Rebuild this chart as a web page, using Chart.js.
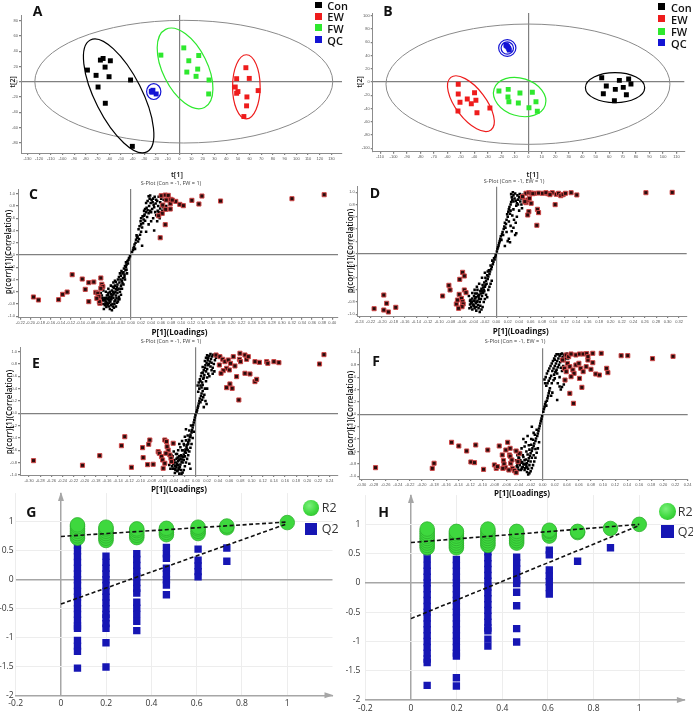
<!DOCTYPE html>
<html>
<head>
<meta charset="utf-8">
<title>PCA / OPLS-DA panels</title>
<script src="https://cdn.jsdelivr.net/npm/chart.js@4.4.1/dist/chart.umd.min.js"></script>
<style>
  html, body { margin: 0; padding: 0; background: #fff; }
  #fig { position: relative; width: 693px; height: 712px; overflow: hidden; font-family: "Open Sans", "Liberation Sans", sans-serif; }
  #fig canvas { position: absolute; }
  .lbl { position: absolute; white-space: nowrap; line-height: 1; color: #111; }
  .mk { position: absolute; }
</style>
</head>
<body>
<div id="fig"></div>
<script>
// ---------- data: score plots ----------
const groupNames = ['Con', 'EW', 'FW', 'QC'];

const aCon = [[-78.7,15.2],[-71.3,8.3],[-67.6,28.3],[-65.3,30.4],[-63.6,19.1],[-59.1,27.4],[-60.2,6.5],[-69.6,-7.0],[-63.4,-28.3],[-41.8,2.2],[-40.3,-84.8]];
const aEW = [[56.8,18.3],[48.9,3.9],[59.7,4.3],[47.7,-7.0],[50.0,-13.0],[48.9,-15.2],[67.3,-11.7],[57.7,-20.0],[57.4,-31.7],[55.1,-45.7]];
const aFW = [[-15.9,34.8],[3.7,44.3],[8.0,27.4],[16.5,34.3],[6.3,12.6],[15.6,16.5],[14.2,7.0],[25.3,2.2],[25.0,-16.1]];
const aQC = [[-24.1,-12.6],[-22.7,-11.3],[-19.9,-16.1],[-23.5,-13.8]];

const bCon = [[54.5,6.5],[67.6,2.5],[74.5,4.5],[57.9,-6.0],[64.6,-11.1],[70.5,-8.1],[76.2,-3.0],[55.7,-17.6],[72.8,-19.1],[63.9,-28.2]];
const bEW = [[-52.0,-3.5],[-52.0,-18.1],[-39.9,-16.1],[-45.3,-25.7],[-38.9,-27.7],[-50.7,-30.7],[-42.3,-32.7],[-52.2,-43.8],[-28.5,-39.3],[-38.1,-46.3]];
const bFW = [[-21.8,-13.6],[-14.9,-11.1],[-6.2,-16.6],[3.0,-15.6],[-15.1,-22.7],[-14.4,-29.7],[-7.4,-31.7],[5.7,-29.7],[0.5,-38.8],[6.7,-44.3]];
const bQC = [[-16.6,55.9],[-15.3,53.4],[-14.6,50.9],[-14.1,48.4],[-16.1,54.9]];

// confidence ellipses: centre, and two conjugate semi-axis vectors (data units)
const aEllipses = [
  { g: 'T2', c: [3.7, 0], u: [127.4, 0], v: [0, 80.4] },
  { g: 'Con', c: [-52, -18.7], u: [24.2, -73.3], v: [-17.9, -13.9] },
  { g: 'QC', c: [-22, -13], u: [6.1, 0], v: [0, 10.4] },
  { g: 'FW', c: [4.8, 17.4], u: [16.6, -51.2], v: [-17.1, -13.0] },
  { g: 'EW', c: [57.2, -6.7], u: [11.8, 0], v: [0, 42] }
];
const bEllipses = [
  { g: 'T2', c: [-0.25, -3.3], u: [105.4, 0], v: [0, 90.9] },
  { g: 'Con', c: [64.4, -8.6], u: [22, 0], v: [0, 22.7] },
  { g: 'EW', c: [-42.6, -32.7], u: [14.9, -39.7], v: [-8.9, -13.8] },
  { g: 'FW', c: [-6.4, -22.7], u: [19.0, -12.2], v: [-4.2, -27.1] },
  { g: 'QC', c: [-15.6, 51.4], u: [6.4, 0], v: [0, 12.6] },
  { g: 'QC', c: [-15.6, 51.4], u: [4.6, 0], v: [0, 9.2] }
];

// ---------- data: S-plots ----------
const cRed = [[0.060,0.967],[0.068,0.978],[0.074,0.973],[0.070,0.897],[0.079,0.908],[0.063,0.815],[0.069,0.745],[0.078,0.75],[0.089,0.875],[0.097,0.826],[0.104,0.805],[0.121,0.892],[0.135,0.832],[0.141,0.962],[0.178,0.881],[0.320,0.919],[0.384,0.984],[0.068,0.495],[0.058,0.282],[0.062,0.68],[0.055,0.64],[0.078,0.837],[0.082,0.897],
  [-0.194,-0.685],[-0.184,-0.734],[-0.144,-0.729],[-0.136,-0.642],[-0.127,-0.604],[-0.117,-0.321],[-0.097,-0.392],[-0.091,-0.56],[-0.084,-0.451],[-0.074,-0.44],[-0.084,-0.761],[-0.060,-0.375],[-0.070,-0.609],[-0.066,-0.625],[-0.064,-0.68],[-0.062,-0.788],[-0.058,-0.478],[-0.056,-0.516],[-0.060,-0.544],[-0.063,-0.761],[-0.068,-0.707]];
const cBlack = [[0.002,0.05],[0.004,0.08],[0.005,0.11],[0.006,0.13],[0.008,0.1],[0.007,0.17],[0.009,0.2],[0.01,0.25],[0.012,0.28],[0.014,0.22],[0.011,0.32],[0.013,0.3],[0.016,0.26],[0.018,0.33],[0.02,0.38],[0.022,0.15],[0.015,0.42],[0.017,0.47],[0.02,0.5],[0.019,0.55],[0.022,0.45],[0.024,0.52],[0.02,0.6],[0.023,0.63],[0.025,0.58],[0.027,0.66],[0.03,0.7],[0.026,0.72],[0.028,0.75],[0.031,0.77],[0.033,0.73],[0.035,0.68],[0.038,0.72],[0.04,0.7],[0.042,0.75],[0.036,0.8],[0.039,0.85],[0.041,0.9],[0.044,0.92],[0.047,0.95],[0.05,0.9],[0.052,0.88],[0.045,0.82],[0.048,0.7],[0.05,0.65],[0.053,0.72],[0.055,0.7],[0.058,0.76],[0.06,0.68],[0.062,0.72],[0.057,0.6],[0.052,0.55],[0.044,0.6],[0.04,0.55],[0.035,0.5],[0.032,0.62],[0.046,0.4],[0.03,0.38],[0.064,0.78],[0.066,0.74],[0.07,0.8],[0.035,0.96],[0.038,0.97],[0.055,0.95],[0.06,0.92],[0.065,0.9],
  [0.03,0.85],[0.033,0.88],[0.037,0.92],[0.043,0.86],[0.046,0.78],[0.049,0.84],[0.054,0.8],[0.058,0.86],[0.026,0.64],[0.028,0.56],
  [-0.002,-0.02],[-0.004,-0.05],[-0.005,-0.08],[-0.007,-0.1],[-0.006,-0.14],[-0.009,-0.16],[-0.01,-0.2],[-0.012,-0.18],[-0.011,-0.25],[-0.014,-0.22],[-0.015,-0.28],[-0.017,-0.3],[-0.013,-0.32],[-0.019,-0.26],[-0.02,-0.34],[-0.022,-0.3],[-0.016,-0.38],[-0.018,-0.42],[-0.021,-0.4],[-0.024,-0.36],[-0.026,-0.4],[-0.023,-0.45],[-0.027,-0.48],[-0.03,-0.44],[-0.028,-0.52],[-0.032,-0.5],[-0.025,-0.55],[-0.02,-0.5],[-0.015,-0.48],[-0.012,-0.4],[-0.03,-0.56],[-0.034,-0.54],[-0.036,-0.6],[-0.033,-0.62],[-0.038,-0.58],[-0.04,-0.64],[-0.042,-0.6],[-0.037,-0.66],[-0.035,-0.7],[-0.039,-0.72],[-0.043,-0.68],[-0.045,-0.7],[-0.041,-0.76],[-0.044,-0.74],[-0.047,-0.72],[-0.048,-0.78],[-0.046,-0.8],[-0.05,-0.76],[-0.052,-0.82],[-0.049,-0.85],[-0.054,-0.88],[-0.053,-0.7],[-0.056,-0.74],[-0.03,-0.66],[-0.027,-0.62],[-0.024,-0.68],[-0.022,-0.6],[-0.018,-0.55],[-0.031,-0.74],[-0.028,-0.78],[-0.033,-0.8],[-0.036,-0.84],[-0.04,-0.82],[-0.025,-0.72],[-0.02,-0.65],[-0.058,-0.66],[-0.06,-0.62],[-0.055,-0.58],[-0.05,-0.6],[-0.045,-0.55],[-0.035,-0.45],[-0.01,-0.12],[-0.008,-0.3],[-0.042,-0.88],[-0.038,-0.9],
  [-0.045,-0.62],[-0.048,-0.66],[-0.05,-0.7],[-0.052,-0.74],[-0.047,-0.82],[-0.043,-0.78],[-0.039,-0.68],[-0.035,-0.64],[-0.031,-0.6],[-0.029,-0.7],[-0.026,-0.76],[-0.023,-0.72],[-0.033,-0.76],[-0.037,-0.8],[-0.041,-0.72],[-0.044,-0.84],[-0.051,-0.79],[-0.055,-0.8],[-0.057,-0.7],[-0.034,-0.86],[-0.03,-0.84],[-0.027,-0.57],[-0.021,-0.55],[-0.017,-0.46],[-0.013,-0.36],[-0.009,-0.24],[-0.046,-0.65],[-0.04,-0.5],[-0.036,-0.52],[-0.032,-0.42]];

const dRed = [[0.052,0.984],[0.057,0.994],[0.061,0.988],[0.067,0.984],[0.074,0.988],[0.081,0.984],[0.090,0.978],[0.098,0.994],[0.105,0.967],[0.109,0.984],[0.113,0.945],[0.117,0.962],[0.121,0.984],[0.131,0.994],[0.141,0.957],[0.103,0.798],[0.052,0.831],[0.055,0.874],[0.058,0.902],[0.050,0.847],[0.057,0.683],[0.055,0.628],[0.072,0.721],[0.074,0.667],[0.071,0.459],[0.262,0.994],[0.308,0.999],[0.046,0.929],[0.061,0.82],[0.064,0.978],[0.087,0.994],[0.094,0.962],
  [-0.214,-0.908],[-0.197,-0.684],[-0.197,-0.93],[-0.192,-0.82],[-0.189,-0.962],[-0.176,-0.886],[-0.094,-0.70],[-0.083,-0.525],[-0.081,-0.601],[-0.070,-0.831],[-0.068,-0.766],[-0.065,-0.673],[-0.064,-0.427],[-0.059,-0.312],[-0.056,-0.372],[-0.061,-0.738],[-0.059,-0.793],[-0.058,-0.831],[-0.056,-0.601],[-0.053,-0.645],[-0.060,-0.875],[-0.066,-0.902]];
const dBlack = [[0.001,0.03],[0.002,0.07],[0.003,0.1],[0.004,0.13],[0.005,0.17],[0.006,0.2],[0.007,0.24],[0.008,0.28],[0.009,0.22],[0.01,0.31],[0.011,0.35],[0.012,0.3],[0.013,0.4],[0.014,0.44],[0.016,0.42],[0.015,0.5],[0.017,0.48],[0.018,0.55],[0.02,0.6],[0.019,0.64],[0.021,0.68],[0.022,0.72],[0.024,0.65],[0.023,0.76],[0.025,0.8],[0.026,0.84],[0.028,0.88],[0.027,0.92],[0.03,0.95],[0.032,0.9],[0.034,0.86],[0.036,0.82],[0.038,0.88],[0.04,0.92],[0.042,0.85],[0.044,0.8],[0.035,0.78],[0.03,0.72],[0.028,0.62],[0.031,0.55],[0.034,0.5],[0.03,0.42],[0.027,0.36],[0.025,0.45],[0.036,0.6],[0.04,0.7],[0.045,0.74],[0.02,0.2],[0.022,0.24],[0.024,0.18],[0.033,0.3],[0.035,0.33],[0.026,0.97],[0.029,1.0],[0.046,0.96],[0.048,0.9],[0.015,0.12],[0.018,0.35],
  [0.03,0.85],[0.033,0.98],[0.037,0.95],[0.041,0.97],[0.043,0.9],[0.038,0.8],[0.025,0.7],[0.022,0.52],
  [-0.001,-0.03],[-0.002,-0.06],[-0.003,-0.1],[-0.004,-0.08],[-0.005,-0.14],[-0.006,-0.18],[-0.007,-0.12],[-0.008,-0.22],[-0.009,-0.26],[-0.01,-0.2],[-0.011,-0.3],[-0.012,-0.34],[-0.013,-0.28],[-0.014,-0.38],[-0.015,-0.42],[-0.016,-0.36],[-0.018,-0.45],[-0.017,-0.5],[-0.019,-0.4],[-0.02,-0.55],[-0.021,-0.48],[-0.022,-0.6],[-0.024,-0.52],[-0.023,-0.65],[-0.025,-0.7],[-0.026,-0.58],[-0.028,-0.62],[-0.027,-0.75],[-0.029,-0.8],[-0.03,-0.68],[-0.031,-0.72],[-0.032,-0.85],[-0.033,-0.78],[-0.034,-0.66],[-0.035,-0.88],[-0.036,-0.82],[-0.037,-0.74],[-0.038,-0.9],[-0.039,-0.86],[-0.04,-0.78],[-0.041,-0.84],[-0.042,-0.92],[-0.043,-0.8],[-0.044,-0.88],[-0.045,-0.76],[-0.046,-0.84],[-0.047,-0.9],[-0.048,-0.7],[-0.015,-0.3],[-0.012,-0.55],[-0.014,-0.6],[-0.018,-0.68],[-0.02,-0.75],[-0.016,-0.72],[-0.022,-0.8],[-0.024,-0.88],[-0.026,-0.92],[-0.029,-0.96],[-0.03,-0.5],[-0.034,-0.55],[-0.038,-0.6],[-0.042,-0.65],[-0.008,-0.45],[-0.01,-0.5],[-0.025,-0.4],[-0.02,-0.32],
  [-0.03,-0.75],[-0.032,-0.7],[-0.034,-0.8],[-0.036,-0.72],[-0.038,-0.78],[-0.04,-0.85],[-0.042,-0.74],[-0.044,-0.82],[-0.028,-0.86],[-0.031,-0.9],[-0.035,-0.94],[-0.027,-0.66],[-0.025,-0.62],[-0.023,-0.56],[-0.021,-0.62],[-0.019,-0.52],[-0.033,-0.6],[-0.037,-0.66],[-0.039,-0.7],[-0.046,-0.78]];

const eRed = [[0.036,0.946],[0.043,0.919],[0.048,0.876],[0.052,0.838],[0.058,0.865],[0.062,0.811],[0.067,0.919],[0.070,0.768],[0.055,0.73],[0.049,0.692],[0.060,0.703],[0.079,0.974],[0.088,0.946],[0.091,0.876],[0.094,0.919],[0.078,0.876],[0.080,0.838],[0.088,0.649],[0.097,0.638],[0.073,0.595],[0.106,0.514],[0.109,0.551],[0.055,0.416],[0.061,0.476],[0.065,0.405],[0.077,0.216],[0.106,0.838],[0.114,0.827],[0.127,0.838],[0.129,0.811],[0.140,0.838],[0.149,0.822],[0.222,0.8],[0.230,0.952],[0.042,0.784],[0.045,0.649],
  [-0.292,-0.769],[-0.204,-0.844],[-0.173,-0.688],[-0.134,-0.526],[-0.128,-0.38],[-0.116,-0.877],[-0.096,-0.558],[-0.095,-0.72],[-0.087,-0.834],[-0.085,-0.504],[-0.083,-0.434],[-0.077,-0.828],[-0.068,-0.623],[-0.066,-0.65],[-0.062,-0.704],[-0.060,-0.758],[-0.059,-0.893],[-0.056,-0.434],[-0.053,-0.46],[-0.050,-0.596],[-0.047,-0.677],[-0.045,-0.731],[-0.054,-0.65],[-0.056,-0.812],[-0.041,-0.487],[-0.044,-0.785],[-0.052,-0.542]];
const eBlack = [[0.001,0.02],[0.002,0.05],[0.003,0.09],[0.004,0.12],[0.005,0.16],[0.006,0.2],[0.007,0.24],[0.008,0.18],[0.009,0.28],[0.01,0.32],[0.012,0.36],[0.011,0.22],[0.013,0.26],[0.015,0.3],[0.006,0.4],[0.008,0.45],[0.005,0.5],[0.007,0.55],[0.009,0.6],[0.011,0.5],[0.013,0.56],[0.015,0.62],[0.012,0.66],[0.014,0.7],[0.016,0.74],[0.018,0.68],[0.02,0.72],[0.017,0.78],[0.019,0.82],[0.021,0.86],[0.023,0.8],[0.025,0.84],[0.022,0.9],[0.024,0.93],[0.027,0.88],[0.029,0.92],[0.031,0.95],[0.026,0.76],[0.028,0.7],[0.03,0.74],[0.032,0.8],[0.034,0.86],[0.01,0.42],[0.012,0.46],[0.018,0.52],[0.02,0.58],[0.022,0.64],[0.024,0.6],[0.016,0.4],[0.02,0.4],[0.03,0.64],[0.033,0.68],[0.004,0.35],[0.003,0.45],[0.017,0.2],[0.019,0.15],[0.014,0.1],[0.036,0.9],[0.038,0.94],
  [0.01,0.65],[0.012,0.75],[0.016,0.85],[0.018,0.9],[0.02,0.94],[0.026,0.96],[0.028,0.82],[0.022,0.78],[0.014,0.58],[0.008,0.52],
  [-0.001,-0.03],[-0.002,-0.07],[-0.003,-0.11],[-0.004,-0.15],[-0.005,-0.19],[-0.006,-0.23],[-0.007,-0.27],[-0.008,-0.31],[-0.009,-0.2],[-0.01,-0.35],[-0.011,-0.39],[-0.012,-0.28],[-0.013,-0.43],[-0.014,-0.47],[-0.015,-0.36],[-0.016,-0.51],[-0.017,-0.55],[-0.018,-0.44],[-0.019,-0.59],[-0.02,-0.63],[-0.021,-0.52],[-0.022,-0.67],[-0.023,-0.71],[-0.024,-0.6],[-0.025,-0.75],[-0.026,-0.79],[-0.027,-0.68],[-0.028,-0.83],[-0.029,-0.87],[-0.03,-0.76],[-0.031,-0.91],[-0.032,-0.84],[-0.033,-0.72],[-0.034,-0.94],[-0.035,-0.88],[-0.036,-0.8],[-0.037,-0.92],[-0.038,-0.85],[-0.039,-0.76],[-0.04,-0.9],[-0.041,-0.82],[-0.042,-0.7],[-0.043,-0.86],[-0.044,-0.78],[-0.046,-0.9],[-0.048,-0.84],[-0.008,-0.5],[-0.01,-0.56],[-0.012,-0.62],[-0.014,-0.68],[-0.016,-0.74],[-0.018,-0.8],[-0.02,-0.86],[-0.022,-0.92],[-0.024,-0.96],[-0.026,-0.98],[-0.03,-0.98],[-0.028,-0.55],[-0.032,-0.6],[-0.036,-0.66],[-0.04,-0.62],[-0.044,-0.68],[-0.02,-0.38],[-0.025,-0.45],[-0.03,-0.5],[-0.018,-0.26],[-0.006,-0.4],[-0.004,-0.3],[-0.015,-0.6],[-0.035,-0.74],[-0.038,-0.97],[-0.012,-0.82],[-0.01,-0.9],
  [-0.03,-0.7],[-0.032,-0.78],[-0.034,-0.82],[-0.036,-0.86],[-0.028,-0.74],[-0.026,-0.7],[-0.024,-0.8],[-0.022,-0.76],[-0.02,-0.7],[-0.018,-0.64],[-0.03,-0.88],[-0.033,-0.93],[-0.027,-0.92],[-0.038,-0.9],[-0.04,-0.8],[-0.042,-0.9],[-0.016,-0.58],[-0.014,-0.5],[-0.012,-0.44],[-0.01,-0.38],[-0.025,-0.6],[-0.022,-0.5],[-0.034,-0.66]];

const fRed = [[0.039,0.957],[0.043,0.930],[0.047,0.973],[0.055,0.957],[0.061,0.973],[0.067,0.973],[0.073,0.979],[0.083,0.984],[0.097,0.984],[0.130,0.946],[0.141,0.946],[0.182,0.898],[0.216,0.935],[0.036,0.742],[0.039,0.688],[0.041,0.823],[0.045,0.769],[0.050,0.715],[0.052,0.661],[0.055,0.796],[0.060,0.823],[0.063,0.742],[0.067,0.688],[0.072,0.769],[0.075,0.876],[0.080,0.726],[0.083,0.833],[0.088,0.65],[0.094,0.634],[0.106,0.742],[0.108,0.672],[0.045,0.338],[0.051,0.177],[0.065,0.435],[0.037,0.553],[0.047,0.607],[0.061,0.58],[0.075,0.93],[0.033,0.876],
  [-0.277,-0.861],[-0.183,-0.872],[-0.180,-0.79],[-0.151,-0.452],[-0.139,-0.511],[-0.126,-0.592],[-0.119,-0.769],[-0.113,-0.78],[-0.111,-0.495],[-0.098,-0.888],[-0.091,-0.576],[-0.080,-0.817],[-0.077,-0.872],[-0.075,-0.845],[-0.072,-0.511],[-0.067,-0.656],[-0.065,-0.748],[-0.064,-0.802],[-0.062,-0.861],[-0.058,-0.452],[-0.055,-0.656],[-0.054,-0.676],[-0.053,-0.79],[-0.050,-0.872],[-0.047,-0.909],[-0.044,-0.941],[-0.051,-0.737],[-0.056,-0.899],[-0.061,-0.576],[-0.066,-0.872],[-0.041,-0.764],[-0.039,-0.63],[-0.044,-0.592],[-0.054,-0.549]];
const fBlack = [[0.001,0.04],[0.002,0.08],[0.003,0.12],[0.004,0.16],[0.005,0.2],[0.006,0.14],[0.007,0.22],[0.008,0.26],[0.009,0.3],[0.01,0.34],[0.011,0.38],[0.012,0.42],[0.006,0.46],[0.008,0.5],[0.01,0.54],[0.012,0.58],[0.014,0.62],[0.005,0.6],[0.007,0.66],[0.009,0.7],[0.011,0.74],[0.013,0.78],[0.015,0.82],[0.017,0.86],[0.019,0.9],[0.021,0.94],[0.023,0.97],[0.016,0.7],[0.018,0.74],[0.02,0.78],[0.022,0.82],[0.024,0.86],[0.026,0.9],[0.028,0.94],[0.03,0.97],[0.019,0.64],[0.021,0.68],[0.023,0.72],[0.025,0.76],[0.027,0.8],[0.029,0.84],[0.031,0.88],[0.033,0.92],[0.035,0.96],[0.025,0.5],[0.028,0.45],[0.03,0.4],[0.032,0.44],[0.035,0.48],[0.024,0.23],[0.038,0.9],[0.04,0.94],[0.036,0.86],[0.034,0.78],[0.032,0.7],[0.015,0.5],[0.018,0.55],[0.014,0.3],[0.016,0.35],[0.02,0.58],[0.004,0.5],[0.003,0.56],
  [0.04,0.98],[0.042,0.9],[0.044,0.95],[0.037,0.96],[0.032,0.98],[0.026,0.97],[0.02,0.88],[0.022,0.7],[0.024,0.66],[0.028,0.6],[0.03,0.75],
  [-0.001,-0.03],[-0.002,-0.07],[-0.003,-0.11],[-0.004,-0.15],[-0.005,-0.19],[-0.006,-0.23],[-0.007,-0.27],[-0.008,-0.31],[-0.009,-0.35],[-0.01,-0.25],[-0.011,-0.39],[-0.012,-0.43],[-0.013,-0.33],[-0.014,-0.47],[-0.015,-0.51],[-0.016,-0.41],[-0.017,-0.55],[-0.018,-0.59],[-0.019,-0.49],[-0.02,-0.63],[-0.021,-0.67],[-0.022,-0.57],[-0.023,-0.71],[-0.024,-0.75],[-0.025,-0.65],[-0.026,-0.79],[-0.027,-0.83],[-0.028,-0.73],[-0.029,-0.87],[-0.03,-0.9],[-0.031,-0.81],[-0.032,-0.69],[-0.033,-0.85],[-0.034,-0.77],[-0.035,-0.88],[-0.036,-0.62],[-0.037,-0.74],[-0.038,-0.82],[-0.039,-0.7],[-0.04,-0.78],[-0.041,-0.86],[-0.042,-0.66],[-0.044,-0.74],[-0.046,-0.58],[-0.028,-0.45],[-0.03,-0.52],[-0.032,-0.4],[-0.025,-0.35],[-0.035,-0.55],[-0.008,-0.55],[-0.01,-0.62],[-0.012,-0.7],[-0.014,-0.76],[-0.016,-0.82],[-0.018,-0.87],[-0.02,-0.92],[-0.022,-0.95],[-0.024,-0.97],[-0.026,-0.93],[-0.015,-0.3],[-0.018,-0.2],[-0.006,-0.45],[-0.04,-0.9],[-0.043,-0.84],
  [-0.03,-0.74],[-0.032,-0.8],[-0.034,-0.86],[-0.036,-0.9],[-0.028,-0.8],[-0.026,-0.86],[-0.024,-0.88],[-0.022,-0.82],[-0.02,-0.76],[-0.018,-0.7],[-0.038,-0.76],[-0.04,-0.7],[-0.042,-0.8],[-0.027,-0.6],[-0.023,-0.5],[-0.019,-0.4],[-0.015,-0.66],[-0.012,-0.56],[-0.033,-0.66],[-0.036,-0.78]];

// ---------- data: permutation tests ----------
const gPermX = [0.073, 0.199, 0.335, 0.466, 0.606, 0.733, 1.0];
const gR2 = [[0.72,0.76,0.8,0.84,0.88,0.92,0.95],[0.68,0.72,0.76,0.8,0.84,0.88,0.91],[0.73,0.77,0.81,0.85,0.88],[0.78,0.82,0.86,0.89],[0.8,0.84,0.88,0.91],[0.9,0.93],[0.99]];
const gQ2 = [[0.6,0.5,0.4,0.3,0.2,0.1,0,-0.1,-0.2,-0.3,-0.4,-0.5,-0.6,-0.7,-0.8,-0.84,-1.05,-1.15,-1.24,-1.53],
  [0.41,0.3,0.2,0.1,0,-0.1,-0.2,-0.3,-0.4,-0.5,-0.6,-0.66,-0.76,-0.84,-1.09,-1.51],
  [0.45,0.35,0.25,0.15,0.05,-0.05,-0.15,-0.23,-0.39,-0.49,-0.6,-0.72,-0.88],
  [0.56,0.45,0.37,0.2,0.1,0,-0.09,-0.26],
  [0.53,0.34,0.24,0.14,0.05],
  [0.55,0.32],
  [0.97]];
const gR2Line = [[0, 0.75], [1, 1.0]];
const gQ2Line = [[0, -0.42], [1, 0.97]];

const hPermX = [0.071, 0.199, 0.337, 0.463, 0.606, 0.73, 0.874, 1.0];
const hR2 = [[0.6,0.64,0.68,0.72,0.76,0.8,0.84,0.88,0.92],[0.6,0.64,0.68,0.72,0.76,0.8,0.84,0.88],[0.64,0.68,0.72,0.76,0.8,0.84,0.88,0.92],[0.68,0.72,0.76,0.8,0.84,0.88],[0.8,0.84,0.88,0.9],[0.86,0.88],[0.93],[1.0]];
const hQ2 = [[0.53,0.41,0.3,0.2,0.1,0,-0.1,-0.2,-0.3,-0.4,-0.5,-0.6,-0.7,-0.8,-0.9,-1.0,-1.1,-1.2,-1.3,-1.36,-1.75],
  [0.4,0.3,0.2,0.1,0,-0.1,-0.2,-0.3,-0.4,-0.5,-0.6,-0.7,-0.8,-0.9,-1.0,-1.1,-1.2,-1.25,-1.62,-1.76],
  [0.53,0.43,0.33,0.23,0.13,0.03,-0.07,-0.17,-0.27,-0.37,-0.47,-0.57,-0.67,-0.77,-0.82,-0.96,-1.08],
  [0.44,0.34,0.24,0.14,0.04,-0.01,-0.16,-0.39,-0.78,-1.01],
  [0.56,0.48,0.22,0.12,0.02,-0.08,-0.19],
  [0.37],
  [0.6],
  [0.98]];
const hR2Line = [[0, 0.69], [1, 1.0]];
const hQ2Line = [[0, -0.61], [1, 0.98]];

// ---------- styling ----------
const groupColor = { Con: '#000000', EW: '#ee1c1c', FW: '#2ee82e', QC: '#1414d4', T2: '#8a8a8a' };
const fig = document.getElementById('fig');
const pt = arr => arr.map(p => ({ x: p[0], y: p[1] }));
const cols = (xs, ys) => xs.flatMap((x, i) => ys[i].map(y => ({ x: x, y: y })));

function makeCanvas(box) {
  const c = document.createElement('canvas');
  c.width = box.w; c.height = box.h;
  c.style.left = box.x + 'px'; c.style.top = box.y + 'px';
  c.style.width = box.w + 'px'; c.style.height = box.h + 'px';
  fig.appendChild(c);
  return c;
}

// pin the chart area to where it sits in the figure
function fixedLayout(box, area, xH) {
  return {
    padding: { left: 0, top: area.t - box.y, right: box.x + box.w - area.r, bottom: box.y + box.h - area.b - xH },
    yW: area.l - box.x,
    xH: xH
  };
}

const ellipsePlugin = {
  id: 'ellipses',
  beforeDatasetsDraw(chart, args, opts) {
    const { ctx, scales: { x, y } } = chart;
    (opts.list || []).forEach(e => {
      const cx = x.getPixelForValue(e.c[0]), cy = y.getPixelForValue(e.c[1]);
      const ux = x.getPixelForValue(e.c[0] + e.u[0]) - cx, uy = y.getPixelForValue(e.c[1] + e.u[1]) - cy;
      const vx = x.getPixelForValue(e.c[0] + e.v[0]) - cx, vy = y.getPixelForValue(e.c[1] + e.v[1]) - cy;
      ctx.save();
      ctx.save();
      ctx.transform(ux, uy, vx, vy, cx, cy);
      ctx.beginPath();
      ctx.arc(0, 0, 1, 0, Math.PI * 2);
      ctx.restore();
      ctx.strokeStyle = groupColor[e.g];
      ctx.lineWidth = e.g === 'T2' ? 1 : 1.2;
      ctx.stroke();
      ctx.restore();
    });
  }
};

const arrowPlugin = {
  id: 'arrows',
  afterDraw(chart) {
    const { ctx, chartArea: a, scales: { x } } = chart;
    const x0 = x.getPixelForValue(0);
    ctx.save();
    ctx.fillStyle = '#a6a6a6';
    ctx.beginPath();
    ctx.moveTo(x0, a.top - 1); ctx.lineTo(x0 - 3, a.top + 8); ctx.lineTo(x0 + 3, a.top + 8);
    ctx.fill();
    ctx.beginPath();
    ctx.moveTo(a.right + 1, a.bottom); ctx.lineTo(a.right - 8, a.bottom - 3); ctx.lineTo(a.right - 8, a.bottom + 3);
    ctx.fill();
    ctx.restore();
  }
};

const zeroGrid = col => (c => (c.tick && Math.abs(c.tick.value) < 1e-9) ? col : 'rgba(0,0,0,0)');

function baseAxis(range, step, lay, isX, fmt) {
  return {
    type: 'linear', min: range[0], max: range[1],
    afterFit: s => { if (isX) s.height = lay.xH; else s.width = lay.yW; },
    ticks: { stepSize: step, includeBounds: false, autoSkip: false, maxRotation: 0, minRotation: 0,
      font: { size: 4, family: 'Liberation Sans' }, color: '#555', padding: 1, callback: fmt },
    grid: { color: zeroGrid('#808080'), lineWidth: 1.2, tickColor: '#808080', tickLength: 2 },
    border: { color: '#8c8c8c', width: 1 }
  };
}

function scorePlot(box, area, xr, yr, groups, ells) {
  const lay = fixedLayout(box, area, 10);
  return new Chart(makeCanvas(box), {
    type: 'scatter',
    data: {
      datasets: groups.map(g => ({ label: g.name, data: pt(g.pts), pointStyle: 'rect', pointRadius: 3.5,
        backgroundColor: groupColor[g.name], borderColor: groupColor[g.name], borderWidth: 0 }))
    },
    options: {
      responsive: false, animation: false, devicePixelRatio: 1, events: [],
      layout: { padding: lay.padding },
      plugins: { legend: { display: false }, tooltip: { enabled: false }, ellipses: { list: ells } },
      scales: {
        x: baseAxis(xr, 10, lay, true, v => String(v)),
        y: baseAxis(yr, 20, lay, false, v => String(v))
      }
    },
    plugins: [ellipsePlugin]
  });
}

function sPlot(box, area, xr, yr, black, red) {
  const lay = fixedLayout(box, area, 9);
  return new Chart(makeCanvas(box), {
    type: 'scatter',
    data: {
      datasets: [
        { label: 'selected', data: pt(red), pointStyle: 'rect', pointRadius: 2.9,
          backgroundColor: '#2a0c0c', borderColor: '#d04848', borderWidth: 1 },
        { label: 'variables', data: pt(black), pointStyle: 'rect', pointRadius: 1.8,
          backgroundColor: '#000', borderColor: '#000', borderWidth: 0 }
      ]
    },
    options: {
      responsive: false, animation: false, devicePixelRatio: 1, events: [],
      layout: { padding: lay.padding },
      plugins: { legend: { display: false }, tooltip: { enabled: false } },
      scales: {
        x: baseAxis(xr, 0.02, lay, true, v => v.toFixed(2)),
        y: baseAxis(yr, 0.2, lay, false, v => v.toFixed(1))
      }
    }
  });
}

function permPlot(box, area, permX, r2, q2, r2Line, q2Line, yPad, xH) {
  const lay = fixedLayout(box, area, xH);
  const gridCol = c => (c.tick && Math.abs(c.tick.value) < 1e-9) ? '#a6a6a6' : '#ededed';
  const gridW = c => (c.tick && Math.abs(c.tick.value) < 1e-9) ? 1.5 : 1;
  const fmt = v => String(Math.round(v * 10) / 10);
  const tickFont = { size: 8.5, family: 'Open Sans' };
  return new Chart(makeCanvas(box), {
    type: 'scatter',
    data: {
      datasets: [
        { label: 'R2 fit', data: pt(r2Line), showLine: true, borderColor: '#111', borderWidth: 1.6,
          borderDash: [4, 2.5], pointRadius: 0 },
        { label: 'Q2 fit', data: pt(q2Line), showLine: true, borderColor: '#111', borderWidth: 1.6,
          borderDash: [4, 2.5], pointRadius: 0 },
        { label: 'R2', data: cols(permX, r2), pointStyle: 'circle', pointRadius: 7.3,
          backgroundColor: '#3ed83e', borderColor: '#2eb02e', borderWidth: 0.8 },
        { label: 'Q2', data: cols(permX, q2), pointStyle: 'rect', pointRadius: 5.2,
          backgroundColor: '#1616b4', borderColor: '#1616b4', borderWidth: 0 }
      ]
    },
    options: {
      responsive: false, animation: false, devicePixelRatio: 1, events: [],
      layout: { padding: lay.padding },
      plugins: { legend: { display: false }, tooltip: { enabled: false } },
      scales: {
        x: { type: 'linear', min: -0.2, max: 1.2,
          afterFit: s => { s.height = lay.xH; },
          afterBuildTicks: s => { s.ticks = s.ticks.filter(t => t.value < 1.1); },
          ticks: { stepSize: 0.2, includeBounds: false, autoSkip: false, maxRotation: 0, font: tickFont,
            color: '#333', padding: 3, callback: fmt },
          grid: { color: gridCol, lineWidth: gridW, drawTicks: false },
          border: { color: '#a6a6a6', width: 1.5 } },
        y: { type: 'linear', min: -2, max: 1.5,
          afterFit: s => { s.width = lay.yW; },
          afterBuildTicks: s => { s.ticks = s.ticks.filter(t => t.value < 1.1); },
          ticks: { stepSize: 0.5, includeBounds: false, autoSkip: false, font: tickFont,
            color: '#333', padding: yPad, callback: fmt },
          grid: { color: gridCol, lineWidth: gridW, drawTicks: false },
          border: { display: false } }
      }
    },
    plugins: [arrowPlugin]
  });
}

// ---------- panels ----------
scorePlot({ x: 0, y: 0, w: 346, h: 165 }, { l: 21, r: 343, t: 15, b: 153 }, [-135.5, 139], [-93.5, 87.4],
  [{ name: 'Con', pts: aCon }, { name: 'EW', pts: aEW }, { name: 'FW', pts: aFW }, { name: 'QC', pts: aQC }], aEllipses);
scorePlot({ x: 346, y: 0, w: 347, h: 165 }, { l: 372.7, r: 684.3, t: 13, b: 151.7 }, [-115.5, 115.8], [-105.3, 104.3],
  [{ name: 'Con', pts: bCon }, { name: 'EW', pts: bEW }, { name: 'FW', pts: bFW }, { name: 'QC', pts: bQC }], bEllipses);

sPlot({ x: 0, y: 178, w: 346, h: 150 }, { l: 18, r: 338, t: 189, b: 317.7 }, [-0.2247, 0.4115], [-1.023, 1.077], cBlack, cRed);
sPlot({ x: 346, y: 178, w: 347, h: 150 }, { l: 357.7, r: 686.7, t: 186.7, b: 316 }, [-0.2427, 0.3334], [-1.028, 1.092], dBlack, dRed);
sPlot({ x: 0, y: 336, w: 346, h: 149 }, { l: 20, r: 338, t: 347.3, b: 475 }, [-0.3163, 0.2552], [-1.002, 1.071], eBlack, eRed);
sPlot({ x: 346, y: 336, w: 347, h: 152 }, { l: 359.3, r: 687.7, t: 348.3, b: 479 }, [-0.3039, 0.2403], [-1.044, 1.065], fBlack, fRed);

permPlot({ x: 0, y: 485, w: 346, h: 227 }, { l: 15.7, r: 332.5, t: 492.6, b: 695.3 }, gPermX, gR2, gQ2, gR2Line, gQ2Line, 2, 14);
permPlot({ x: 346, y: 485, w: 347, h: 227 }, { l: 365.3, r: 688, t: 494.4, b: 700 }, hPermX, hR2, hQ2, hR2Line, hQ2Line, 5, 12);

// ---------- text and legends ----------
function addText(str, x, y, size, weight, opts) {
  const d = document.createElement('div');
  d.className = 'lbl';
  d.textContent = str;
  d.style.fontSize = size + 'px';
  d.style.fontWeight = weight;
  d.style.left = x + 'px';
  d.style.top = y + 'px';
  const o = opts || {};
  if (o.color) d.style.color = o.color;
  const ax = o.left ? '0' : '-50%';
  d.style.transform = 'translate(' + ax + ',-50%)';
  fig.appendChild(d);
  return d;
}
function addRotText(str, x, y, size, weight) {
  const d = addText(str, x, y, size, weight);
  d.style.transform = 'translate(-50%,-50%) rotate(-90deg)';
  d.style.transformOrigin = '50% 50%';
}
function addBox(x, y, w, h, bg, radius) {
  const d = document.createElement('div');
  d.className = 'mk';
  d.style.left = (x - w / 2) + 'px'; d.style.top = (y - h / 2) + 'px';
  d.style.width = w + 'px'; d.style.height = h + 'px';
  d.style.background = bg;
  if (radius) d.style.borderRadius = radius;
  fig.appendChild(d);
}

// panel letters
[['A', 37.5, 10.5], ['B', 388, 11], ['C', 33.5, 193.5], ['D', 375, 193], ['E', 36, 363], ['F', 376, 361], ['G', 31.3, 511.7], ['H', 383.5, 511.5]]
  .forEach(l => addText(l[0], l[1], l[2], 14, 700));

// score plot legends
const legA = [5, 16.3, 27.8, 39.5], legB = [6.7, 18.7, 31.3, 42.7];
groupNames.forEach((n, i) => {
  addBox(318.3, legA[i], 6.7, 6.7, groupColor[n]);
  addText(n, 327.3, legA[i], 11, 600, { left: true });
  addBox(661.3, legB[i], 7, 7, groupColor[n]);
  addText(n, 671, legB[i], 11, 600, { left: true });
});

// score plot axis titles
addRotText('t[2]', 12, 82, 7, 600);
addRotText('t[2]', 359, 82, 7, 600);
addText('t[1]', 177, 175, 7.5, 600);
addText('t[1]', 532.7, 175, 7.5, 600);

// S-plot titles
addText('S-Plot (Con = -1, FW = 1)', 171, 184.3, 5.5, 400, { color: '#444' });
addText('S-Plot (Con = -1, EW = 1)', 514, 181.7, 5.5, 400, { color: '#444' });
addText('S-Plot (Con = -1, FW = 1)', 171, 342.3, 5.5, 400, { color: '#444' });
addText('S-Plot (Con = -1, EW = 1)', 515, 342, 5.5, 400, { color: '#444' });
[[8, 252], [349.5, 251], [9, 412], [349.5, 413]].forEach(p => addRotText('p(corr)[1](Correlation)', p[0], p[1], 8, 600));
[[179.5, 331.7], [520.7, 330.7], [179, 489.3], [522, 492.7]].forEach(p => addText('P[1](Loadings)', p[0], p[1], 8, 700));

// permutation legends
const r2Ball = 'radial-gradient(circle at 40% 35%, #7cf07c 0%, #3ed83e 55%, #2bb02b 100%)';
addBox(310.8, 508, 15.5, 15.5, r2Ball, '50%');
addBox(311, 528.5, 12, 12, '#1616b4');
addText('R2', 321.7, 508, 12.5, 400, { left: true, color: '#333' });
addText('Q2', 321.7, 528.5, 12.5, 400, { left: true, color: '#333' });
addBox(667.5, 511.7, 16.5, 16.5, r2Ball, '50%');
addBox(667.5, 531.7, 13, 13, '#1616b4');
addText('R2', 677.7, 511.7, 12.5, 400, { left: true, color: '#333' });
addText('Q2', 677.7, 531.7, 12.5, 400, { left: true, color: '#333' });
</script>
</body>
</html>
